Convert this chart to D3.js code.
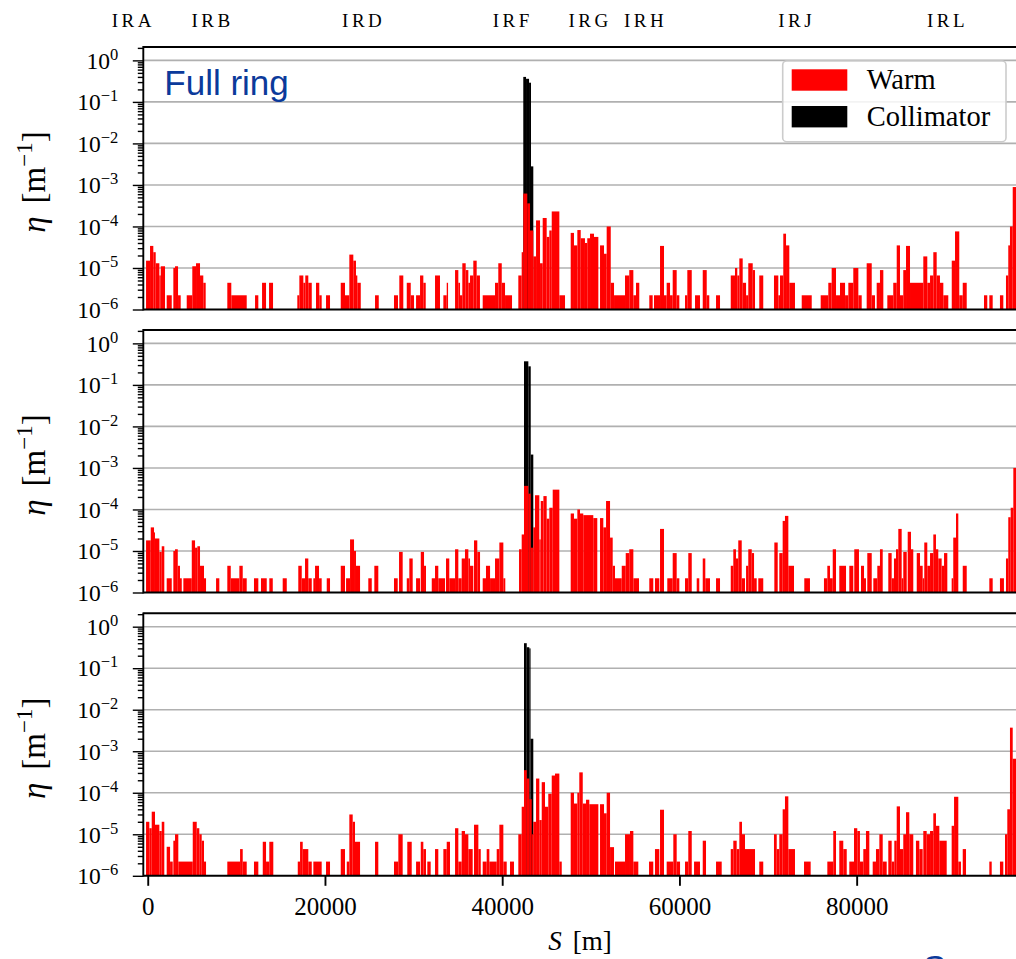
<!DOCTYPE html>
<html><head><meta charset="utf-8">
<script src="https://cdn.jsdelivr.net/npm/d3@7"></script>
<style>
html,body{margin:0;padding:0;background:#fff;overflow:hidden}
svg{display:block}
.serif{font-family:"Liberation Serif","Times New Roman",serif;fill:#000}
</style></head><body>
<svg id="chart" width="1016" height="959"></svg>
<script>
// Interaction regions along the ring, S in metres
const irNames = ["IRA", "IRB", "IRD", "IRF", "IRG", "IRH", "IRJ", "IRL"];
const irS = [-1620, 7310, 24370, 41190, 49920, 56180, 73230, 90250];

const xTicks = [0, 20000, 40000, 60000, 80000];
const yTickExp = [0, -1, -2, -3, -4, -5, -6];

// Loss entries: [S start (m), S end (m), eta (1/m)]
const warmFull = [
  [-190,260,1.5e-5],[260,630,3.4e-5],[630,900,2.4e-5],[900,1310,1.3e-5],[1310,1470,6.6e-6],[1470,1950,1.1e-5],
  [2140,2710,2.2e-6],[2890,3080,1e-5],[3080,3420,1.1e-5],[3420,3720,2.2e-6],
  [4400,5030,2.2e-6],[5030,5450,1.1e-5],[5450,5900,1.3e-5],[5900,6270,6.6e-6],[6270,6540,4.4e-6],
  [8980,9430,4.4e-6],[9430,11170,2.2e-6],[12110,12480,2.2e-6],[12900,13350,4.4e-6],[13690,14140,4.4e-6],
  [16880,17110,2.2e-6],[17110,17560,6.6e-6],[17560,17780,4.4e-6],[17780,18120,6.6e-6],[18120,18510,4.4e-6],
  [18990,19360,4.4e-6],[19360,19630,2.2e-6],[20120,20570,2.2e-6],
  [21780,22260,4.4e-6],[22260,22750,2.2e-6],[22750,23200,2.1e-5],[23200,23500,1.5e-5],[23500,23650,6.6e-6],[23650,24040,4.4e-6],
  [25650,26070,2.2e-6],[27790,28240,2.2e-6],[28390,28840,6.6e-6],[29230,29680,4.4e-6],[29680,30050,2.2e-6],
  [30280,30730,2.2e-6],[30730,31100,6.6e-6],[31100,31370,4.4e-6],[32420,32980,6.6e-6],
  [33360,33740,2.2e-6],[33740,33890,4.4e-6],[34680,35050,8.9e-6],[35050,35240,4.4e-6],[35240,35500,2.2e-6],
  [35500,35880,1.3e-5],[35880,36180,8.9e-6],[36180,36370,4.4e-6],[36370,36740,6.6e-6],[36740,37120,1.5e-5],[37120,37490,6.6e-6],
  [37800,39190,2.2e-6],[39190,39560,4.4e-6],[39560,39950,1.3e-5],[39950,40320,4.4e-6],[40320,41110,2.2e-6],
  [41820,42200,6.6e-6],[42200,42380,2.4e-5],[42380,42830,6.2e-4],[42830,43140,3.6e-4],[43140,43510,8e-5],
  [43510,43820,1.9e-5],[43820,44270,1.4e-4],[44270,44570,1.3e-5],[44570,45020,1.6e-4],[45020,45320,5.6e-5],
  [45320,45590,8e-5],[45590,46450,2.3e-4],[46450,47090,2.2e-6],
  [47730,48100,7e-5],[48100,48480,3.5e-5],[48480,48860,8.2e-5],[48860,49340,5.2e-5],[49340,49600,4e-5],
  [49600,49910,5.2e-5],[49910,50360,6.7e-5],[50360,50850,5.6e-5],
  [51040,51490,3.5e-5],[51490,51790,2.2e-5],[51790,52250,1e-4],[52250,52620,4.4e-6],[52620,53860,2.2e-6],
  [53860,54340,6.6e-6],[54340,54800,8.9e-6],[54800,55100,2.2e-6],[55100,55470,4.4e-6],
  [56600,56980,2.2e-6],[57130,57810,2.2e-6],[57810,58260,3.4e-5],[58260,58560,2.2e-6],[58560,58940,4.4e-6],
  [58940,59240,2.2e-6],[59240,59690,8.9e-6],[59690,59990,2.2e-6],[60630,60890,2.2e-6],[60890,61390,8.9e-6],
  [61760,62320,2.2e-6],[62630,63080,8.9e-6],[63080,63370,2.2e-6],[64130,64580,2.2e-6],
  [65790,66270,6.6e-6],[66270,66530,1e-5],[66530,66760,6.6e-6],[66760,67140,1.7e-5],[67140,67520,4.4e-6],
  [67520,67770,2.2e-6],[67770,68270,1.3e-5],[68270,68530,8.9e-6],[69010,69460,6.6e-6],
  [70670,71160,6.6e-6],[71160,71350,2.2e-6],[71350,71720,6.6e-6],[71720,72030,6.7e-5],[72030,72400,3.5e-5],[72400,73040,4.4e-6],
  [73800,74930,2.2e-6],[75940,76800,2.2e-6],[76800,77180,4.4e-6],[77180,77670,1e-5],[77670,78120,2.2e-6],
  [78120,78690,4.4e-6],[78690,79060,2.2e-6],[79060,79620,4.4e-6],[79620,80190,1e-5],[80190,80570,2.2e-6],
  [81130,81700,1.3e-5],[81700,82070,2.2e-6],[82260,82630,4.4e-6],[82630,83010,8.9e-6],
  [83460,84130,2.2e-6],[84130,84520,4.4e-6],[84520,84890,3.5e-5],[84890,85260,2.2e-6],[85260,85570,8.9e-6],
  [85570,86020,3.4e-5],[86020,87520,4.4e-6],[87520,87970,1.9e-5],[87970,88280,4.4e-6],[88280,88650,6.6e-6],
  [88650,89030,2.4e-5],[89030,89400,6.6e-6],[89400,89780,4.4e-6],[89780,90340,2.2e-6],
  [90730,91100,1.5e-5],[91100,91580,7.6e-5],[91580,91970,2.2e-6],[91970,92420,4.4e-6],
  [94370,94740,2.2e-6],[94970,95350,2.2e-6],[96170,96550,2.2e-6],
  [96850,97110,6.6e-6],[97110,97300,3.5e-5],[97300,97610,1e-4],[97610,97990,8.9e-4]
];
const collFull = [[42380,42690,0.40],[42690,43030,0.36],[43030,43250,0.29],[43250,43510,2.8e-3]];

const warmMid = [
  [-190,340,1.8e-5],[340,710,3.7e-5],[710,820,2.8e-5],[820,1310,2e-5],[1310,1580,9.5e-6],[1580,1870,1.3e-5],
  [2140,2710,2.2e-6],[2890,3080,1e-5],[3080,3390,1.1e-5],[3390,3640,4.4e-6],[3640,3840,2.2e-6],
  [4020,4970,2.2e-6],[4970,5340,1.8e-5],[5340,5600,1.2e-5],[5600,5900,1.3e-5],[5900,6350,4.4e-6],[6350,6580,2.2e-6],
  [7710,8080,2.2e-6],[8980,9370,4.4e-6],[9370,10340,2.2e-6],[10340,10720,4.4e-6],[10720,11170,2.2e-6],
  [11990,12480,2.2e-6],[12780,13430,2.2e-6],[13720,14110,2.2e-6],[15230,15690,2.2e-6],
  [16990,17380,4.4e-6],[17380,17750,2.2e-6],[17750,18120,6.6e-6],[18120,18510,2.2e-6],
  [18690,18880,2.2e-6],[18880,19330,4.4e-6],[19330,19630,2.2e-6],[20200,20570,2.2e-6],
  [21780,22260,4.4e-6],[22380,22830,2.2e-6],[22830,23280,1.9e-5],[23280,23500,1e-5],[23500,23960,4.4e-6],
  [24890,25280,2.2e-6],[25570,26020,4.4e-6],[27790,28210,2.2e-6],[28360,28770,9.5e-6],
  [29230,29520,2.2e-6],[29520,29900,6.6e-6],[30280,30730,2.2e-6],[30810,31180,9.5e-6],[31180,31400,4.4e-6],
  [32050,32420,2.2e-6],[32420,32790,4.4e-6],[32790,33550,2.2e-6],[33660,34030,6.6e-6],[34030,34680,2.2e-6],
  [34680,35050,1.1e-5],[35050,35430,2.2e-6],[35430,35800,6.6e-6],[35800,36180,1.1e-5],[36180,36370,6.6e-6],
  [36370,36740,4.4e-6],[36820,37190,1.8e-5],[37190,37500,9.5e-6],
  [37800,38170,2.2e-6],[38170,38630,4.4e-6],[38630,39190,2.2e-6],[39190,39680,6.6e-6],[39680,40130,1.6e-5],[40130,40350,2.2e-6],
  [41900,42200,1.1e-5],[42200,42460,2.5e-5],[42460,42950,3.7e-4],[42950,43220,2.4e-4],[43220,43510,1.2e-5],
  [43510,43700,3.7e-5],[43700,44190,2.2e-4],[44190,44350,1.9e-5],[44350,44650,1.6e-4],[44650,45020,2.1e-4],
  [45020,45320,6e-5],[45320,45700,1.1e-4],[45700,46450,3e-4],
  [47730,48100,8e-5],[48100,48480,6e-5],[48480,48780,1e-4],[48780,49150,8e-5],[49150,50280,7.3e-5],[50280,50730,6.2e-5],
  [51040,51410,6.2e-5],[51410,51720,3.7e-5],[51720,52170,1.6e-4],[52170,52470,2.1e-5],[52470,52730,4.4e-6],
  [52730,53490,2.2e-6],[53490,53940,4.4e-6],[53940,54340,8.9e-6],[54340,54800,1.1e-5],[54800,55440,2.2e-6],
  [56600,57050,2.2e-6],[57240,57730,2.2e-6],[57810,58260,3.4e-5],[58630,59240,2.2e-6],[59240,59690,8.9e-6],
  [59690,59990,2.2e-6],[60630,61000,2.2e-6],[61000,61390,8.9e-6],[61950,62240,2.2e-6],[62630,62920,6.6e-6],
  [62920,63450,2.2e-6],[64130,64580,2.2e-6],
  [65790,66080,4.4e-6],[66080,66380,1.1e-5],[66380,66640,6.6e-6],[66640,67030,1.8e-5],[67030,67400,2.2e-6],
  [67520,67770,4.4e-6],[67770,68160,1.1e-5],[68160,68420,8.9e-6],[68420,68720,2.2e-6],[68900,69460,2.2e-6],
  [70710,71090,1.6e-5],[71270,71650,8.9e-6],[71650,71910,5.3e-5],[71910,72290,7e-5],[72290,72930,4.4e-6],
  [74090,74730,2.2e-6],[76310,76690,2.2e-6],[76690,76990,4.4e-6],[76990,77300,2.2e-6],[77300,77670,1.1e-5],
  [78040,78800,4.4e-6],[79170,79620,4.4e-6],[79730,80260,1.1e-5],[80490,80830,4.4e-6],[80830,81050,2.2e-6],
  [81200,81700,8.9e-6],[81880,82330,2.2e-6],[82330,82630,4.4e-6],[82630,82940,1.1e-5],
  [83570,83950,8.9e-6],[83950,84210,2.2e-6],[84210,84440,6.6e-6],[84440,84700,1.1e-5],[84700,85080,3.4e-5],
  [85080,85260,2.2e-6],[85260,85650,9.5e-6],[85760,86130,2.9e-5],[86130,86390,1.1e-5],
  [86780,87150,8.9e-6],[87150,87450,4.4e-6],[87450,87630,2.2e-6],[87630,87970,1.6e-5],[87970,88280,4.4e-6],
  [88280,88650,8.9e-6],[88650,88950,2.5e-5],[88950,89210,1.1e-5],[89210,89590,6.6e-6],[89590,89860,4.4e-6],
  [89860,90230,8.9e-6],[90720,90900,2.2e-6],[90900,91210,2.1e-5],[91210,91470,8e-5],[91970,92420,4.4e-6],
  [94970,95350,2.2e-6],[96170,96620,2.2e-6],
  [96850,97110,6.6e-6],[97110,97380,6.5e-5],[97380,97680,1.1e-4],[97680,97990,1e-3]
];
const collMid = [[42460,42950,0.37],[42950,43220,0.28],[43220,43510,2.1e-3]];

const warmLow = [
  [-190,180,2e-5],[180,450,1.4e-5],[450,820,3.5e-5],[820,1310,1.7e-5],[1310,1580,1.2e-5],[1580,1870,2e-5],
  [2140,2520,5e-6],[2520,2820,2.2e-6],[2890,3080,7e-6],[3080,3450,1e-5],[3450,5080,2.2e-6],
  [5080,5530,2e-5],[5530,5820,1.4e-5],[5820,6090,1e-5],[6090,6350,7e-6],[6350,6580,2.2e-6],
  [8980,10420,2.2e-6],[10420,10720,4.4e-6],[10720,11170,2.2e-6],[11990,12480,2.2e-6],
  [12980,13350,6.6e-6],[13350,13720,2.2e-6],[13720,14170,6.6e-6],
  [16930,17190,2.2e-6],[17190,17490,6.6e-6],[17490,18120,4.4e-6],[18120,18510,2.2e-6],[18690,19630,2.2e-6],
  [20120,20570,2.2e-6],[21780,22260,4.4e-6],[22460,22750,2.2e-6],[22750,23130,3e-5],[23130,23390,2e-5],
  [23390,23960,6.6e-6],[25650,26020,6.6e-6],[27790,28280,2.2e-6],[28280,28770,1e-5],[29290,29790,6.6e-6],
  [30280,30730,2.2e-6],[30810,31100,6.6e-6],[31100,31400,4.4e-6],[31550,31930,2.2e-6],[32420,32790,4.4e-6],
  [33360,33740,4.4e-6],[33740,34110,6.6e-6],[34680,35050,1.4e-5],[35050,35430,2.2e-6],[35430,35800,1.2e-5],
  [35800,36180,1e-5],[36180,36670,4.4e-6],[36820,37310,1.7e-5],[37310,37580,4.4e-6],
  [37800,38250,2.2e-6],[38250,38550,4.4e-6],[38550,39380,2.2e-6],[39380,39680,4.4e-6],[39680,40130,1.7e-5],
  [40130,40510,2.2e-6],[40880,41330,2.2e-6],
  [41820,42200,1e-5],[42200,42460,4.6e-5],[42460,42770,3.5e-4],[42770,43060,2.2e-4],[43060,43330,7e-5],
  [43330,43510,1e-5],[43510,43820,2e-5],[43820,44190,2.2e-4],[44190,44460,2.2e-5],[44460,44830,1.8e-4],
  [44830,45200,4.6e-5],[45200,45590,9.5e-5],[45590,45960,2.6e-4],[45960,46450,2.9e-4],[46450,46720,2.2e-6],
  [47730,48100,1e-4],[48100,48480,5.5e-5],[48480,48700,1e-4],[48700,49090,3.1e-4],[49090,49460,5.5e-5],
  [49460,49830,6.8e-5],[49830,50850,5.3e-5],[51040,51490,5.3e-5],[51490,51790,3.2e-5],[51790,52170,1e-4],
  [52170,52620,4.9e-6],[52730,53860,2.2e-6],[53860,54420,1e-5],[54420,54800,1.2e-5],[54800,55360,2.2e-6],
  [56570,57050,2.2e-6],[57240,57730,4.4e-6],[57810,58260,3.9e-5],[58560,59310,2.2e-6],[59310,59690,1e-5],
  [59690,60070,2.2e-6],[60630,61000,2.2e-6],[61000,61390,1.2e-5],[61650,62320,2.2e-6],[62630,63000,7e-6],
  [64130,64770,2.2e-6],
  [65790,66080,4.4e-6],[66080,66460,7e-6],[66460,66760,4.4e-6],[66760,67060,2e-5],[67060,67400,1e-5],
  [67400,68530,4.4e-6],[69010,69460,2.2e-6],
  [70670,70980,1e-5],[70980,71270,4.4e-6],[71270,71650,1e-5],[71650,71910,4e-5],[71910,72290,8.2e-5],[72290,73040,4.4e-6],
  [74060,74810,2.2e-6],[76690,77360,2.2e-6],[77360,77670,1.2e-5],[78040,78490,7e-6],[78490,78880,4.4e-6],
  [79170,79700,2.2e-6],[79700,80070,1.4e-5],[80070,80370,1.2e-5],[80370,80750,2.2e-6],[80750,81050,4.4e-6],
  [81050,81430,1.2e-5],[81810,82180,2.2e-6],[82180,82560,4.4e-6],[82560,82940,1e-5],[82940,83390,2.2e-6],
  [83570,83950,7e-6],[83950,84250,2.2e-6],[84250,84520,7e-6],[84520,84890,4.7e-5],[84890,85260,4.4e-6],
  [85260,85570,1e-5],[85570,85940,3.4e-5],[85940,86390,1e-5],[86690,87070,7e-6],[87070,87450,4.4e-6],
  [87520,87900,1.2e-5],[87900,88280,1e-5],[88280,88650,1.2e-5],[88650,88950,3.2e-5],[88950,89330,1.6e-5],
  [89330,90160,7e-6],[90720,90990,1.6e-5],[90990,91470,8e-5],[91470,91770,2.2e-6],[91970,92340,4.4e-6],
  [94970,95240,2.2e-6],[96170,96550,2.2e-6],
  [96740,97000,1e-5],[97000,97300,4e-5],[97300,97610,3.7e-3],[97610,97990,6.6e-4]
];
const collLow = [[42460,42770,0.40],[42770,43060,0.32],[43060,43200,0.30],[43200,43510,2e-3]];

const seriesNames = ["Warm", "Collimator"];
const seriesColors = ["#ff0000", "#000000"];

// ---- layout ----
const svg = d3.select("#chart");
const plotLeft = 143.3, plotRight = 1020.6, panelH = 262.5;
const x = d3.scaleLinear().domain([-500, 98500]).range([plotLeft, plotRight]);
const gridColor = "#b0b0b0";

const panels = [
  {top: 47, warm: warmFull, coll: collFull, tag: "Full ring", legend: true},
  {top: 330, warm: warmMid, coll: collMid},
  {top: 613.3, warm: warmLow, coll: collLow, xAxis: true}
];

// IR labels above the first panel
svg.append("g").selectAll("text").data(irNames).join("text")
  .attr("class", "serif")
  .attr("x", (d, i) => x(irS[i]))
  .attr("y", 26.7)
  .attr("text-anchor", "middle")
  .attr("font-size", 19)
  .attr("letter-spacing", 3.5)
  .text(d => d);

const majorVals = yTickExp.map(e => Math.pow(10, e));
const minorVals = [];
for (let e = -6; e <= 0; e++) {
  for (let k = 2; k <= 9; k++) {
    const v = k * Math.pow(10, e);
    if (v <= 2.1) minorVals.push(v);
  }
}

panels.forEach((p, i) => {
  const base = p.top + panelH;
  const y = d3.scaleLog().domain([1e-6, 2.1]).range([base, p.top]);
  const g = svg.append("g");

  const clipId = "plotclip" + i;
  svg.append("clipPath").attr("id", clipId)
    .append("rect").attr("x", plotLeft).attr("y", p.top)
    .attr("width", plotRight - plotLeft).attr("height", panelH);

  // horizontal grid at each decade
  g.append("g").selectAll("line").data(majorVals.slice(0, -1)).join("line")
    .attr("x1", plotLeft).attr("x2", plotRight)
    .attr("y1", d => y(d)).attr("y2", d => y(d))
    .attr("stroke", gridColor).attr("stroke-width", 1.6);

  const bars = g.append("g").attr("clip-path", `url(#${clipId})`);
  bars.append("g").selectAll("rect").data(p.coll).join("rect")
    .attr("x", d => x(d[0])).attr("width", d => x(d[1]) - x(d[0]))
    .attr("y", d => y(d[2])).attr("height", d => base - y(d[2]))
    .attr("fill", seriesColors[1]);
  bars.append("g").selectAll("rect").data(p.warm).join("rect")
    .attr("x", d => x(d[0])).attr("width", d => x(d[1]) - x(d[0]))
    .attr("y", d => y(d[2])).attr("height", d => base - y(d[2]))
    .attr("fill", seriesColors[0]);

  // left axis: major and minor ticks
  const yMajor = g.append("g").attr("transform", `translate(${plotLeft},0)`)
    .call(d3.axisLeft(y).tickValues(majorVals).tickSize(10.5).tickFormat(""));
  const yMinor = g.append("g").attr("transform", `translate(${plotLeft},0)`)
    .call(d3.axisLeft(y).tickValues(minorVals).tickSize(5.5).tickFormat(""));
  [yMajor, yMinor].forEach(a => {
    a.select(".domain").remove();
    a.selectAll(".tick line").attr("stroke", "#000").attr("stroke-width", 1.4);
  });

  // decade labels 10^k
  const lab = g.append("g").selectAll("text").data(yTickExp).join("text")
    .attr("class", "serif")
    .attr("x", 118.3)
    .attr("y", e => y(Math.pow(10, e)) + 8.3)
    .attr("text-anchor", "end")
    .attr("font-size", 23.5);
  lab.append("tspan").text("10");
  lab.append("tspan").attr("dy", -9).attr("font-size", 16.5)
    .text(e => e < 0 ? "\u2212" + (-e) : String(e));

  // spines
  const sp = g.append("g").attr("stroke", "#000").attr("stroke-width", 1.9).attr("fill", "none");
  sp.append("line").attr("x1", plotLeft).attr("x2", plotRight).attr("y1", p.top).attr("y2", p.top);
  sp.append("line").attr("x1", plotLeft).attr("x2", plotRight).attr("y1", base).attr("y2", base);
  sp.append("line").attr("x1", plotLeft).attr("x2", plotLeft).attr("y1", p.top - 0.9).attr("y2", base + 0.9);

  // y label
  const yl = g.append("text").attr("class", "serif")
    .attr("transform", `translate(45,${p.top + 135}) rotate(-90)`)
    .attr("text-anchor", "middle").attr("font-size", 33);
  yl.append("tspan").attr("font-style", "italic").text("\u03b7");
  yl.append("tspan").attr("dx", 13).text("[m");
  yl.append("tspan").attr("dy", -13).attr("font-size", 23).text("\u22121");
  yl.append("tspan").attr("dy", 13).text("]");

  if (p.tag) {
    g.append("text").attr("x", 164.3).attr("y", 95)
      .attr("font-family", "'Liberation Sans', Arial, sans-serif")
      .attr("font-size", 35).attr("fill", "#0b3a9b").text(p.tag);
  }

  if (p.xAxis) {
    const xa = g.append("g").attr("transform", `translate(0,${base})`)
      .call(d3.axisBottom(x).tickValues(xTicks).tickSize(10).tickFormat(d3.format("d")));
    xa.select(".domain").remove();
    xa.selectAll(".tick line").attr("stroke", "#000").attr("stroke-width", 1.9);
    xa.selectAll(".tick text").attr("class", "serif")
      .attr("y", 39.7).attr("dy", 0).attr("font-size", 25)
      .attr("font-family", "'Liberation Serif', serif").attr("fill", "#000");

    const xl = g.append("text").attr("class", "serif")
      .attr("x", 580).attr("y", 950).attr("text-anchor", "middle").attr("font-size", 27);
    xl.append("tspan").attr("font-style", "italic").text("S");
    xl.append("tspan").attr("dx", 11).text("[m]");
  }

  if (p.legend) {
    const lg = g.append("g");
    lg.append("rect").attr("x", 782.7).attr("y", 61).attr("width", 223.3).attr("height", 80.7)
      .attr("rx", 4).attr("fill", "#fff").attr("fill-opacity", 0.85)
      .attr("stroke", "#cccccc").attr("stroke-width", 1.6);
    const rows = lg.selectAll("g.row").data(seriesNames).join("g").attr("class", "row")
      .attr("transform", (d, k) => `translate(0,${k * 36.7})`);
    rows.append("rect").attr("x", 791.7).attr("y", 69.3).attr("width", 55.6).attr("height", 21.4)
      .attr("fill", (d, k) => seriesColors[k]);
    rows.append("text").attr("class", "serif").attr("x", 866.7).attr("y", 89)
      .attr("font-size", 28.5).text(d => d);
  }
});

// caption fragment of the following panel set, cut by the page edge
svg.append("text").attr("x", 923).attr("y", 980)
  .attr("font-family", "'Liberation Sans', Arial, sans-serif")
  .attr("font-size", 35).attr("fill", "#0b3a9b").text("Smoothed");
</script>
</body></html>
